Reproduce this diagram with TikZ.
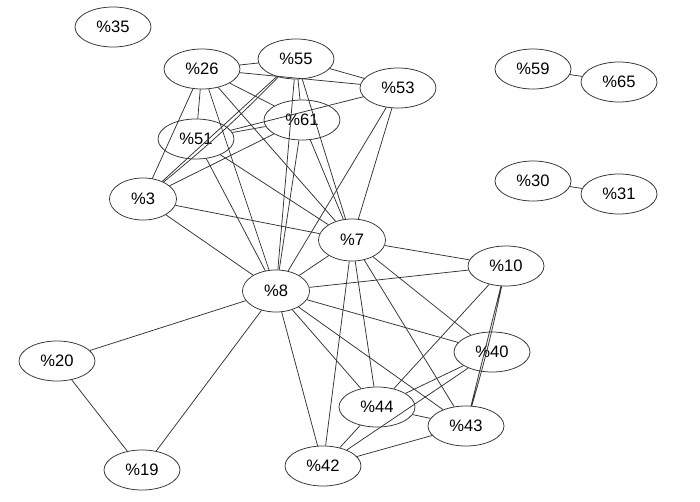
\documentclass[tikz,border=0pt]{standalone}
\usepackage{fontspec}
\setmainfont{Liberation Sans}
\usetikzlibrary{shapes.geometric}

\tikzset{
  vtx/.style={draw=black!80,line width=0.75pt,ellipse,inner sep=0pt,
    minimum width=76*0.035cm,minimum height=40*0.035cm,
    font=\fontsize{16.5}{20}\selectfont},
  vtxs/.style={vtx,minimum width=67*0.035cm,minimum height=42*0.035cm},
  edge/.style={draw=black!80,line width=0.75pt}
}

\begin{document}
\begin{tikzpicture}[x=0.035cm,y=-0.035cm]
  \useasboundingbox (0,0) rectangle (700,501);
  \node[vtx] (n35) at (113,27) {\%35};
  \node[vtx] (n26) at (202,69) {\%26};
  \node[vtx] (n55) at (296,59) {\%55};
  \node[vtx] (n53) at (398,88) {\%53};
  \node[vtx] (n61) at (302,120) {\%61};
  \node[vtx] (n51) at (196,139) {\%51};
  \node[vtxs] (n3) at (143,199) {\%3};
  \node[vtxs] (n7) at (352,240) {\%7};
  \node[vtx] (n10) at (506,266) {\%10};
  \node[vtxs] (n8) at (276,291) {\%8};
  \node[vtx] (n40) at (492,352) {\%40};
  \node[vtx] (n44) at (377,407) {\%44};
  \node[vtx] (n43) at (466,426) {\%43};
  \node[vtx] (n42) at (323,466) {\%42};
  \node[vtx] (n20) at (57,361) {\%20};
  \node[vtx] (n19) at (142,470) {\%19};
  \node[vtx] (n59) at (533,69) {\%59};
  \node[vtx] (n65) at (619,82) {\%65};
  \node[vtx] (n30) at (533,181) {\%30};
  \node[vtx] (n31) at (619,194) {\%31};

  \draw[edge] (n26) -- (n55) (n26) -- (n53) (n55) -- (n53) (n26) -- (n61)
    (n26) -- (n51) (n26) -- (n3) (n26) -- (n8) (n26) -- (n7);
  \draw[edge] (n55) -- (n61) (n55) -- (n3) (n55) to[bend left=3] (n3)
    (n55) -- (n8) (n55) -- (n7);
  \draw[edge] (n53) -- (n51) (n53) -- (n8) (n53) -- (n7);
  \draw[edge] (n61) -- (n51) (n61) -- (n3) (n61) -- (n8) (n61) -- (n7);
  \draw[edge] (n51) -- (n8) (n51) -- (n7) (n3) -- (n7) (n3) -- (n8);
  \draw[edge] (n7) -- (n8) (n7) -- (n10) (n7) -- (n40) (n7) -- (n43)
    (n7) -- (n44) (n7) -- (n42);
  \draw[edge] (n8) -- (n10) (n8) -- (n40) (n8) -- (n43) (n8) -- (n44)
    (n8) -- (n42) (n8) -- (n20) (n8) -- (n19) (n20) -- (n19);
  \draw[edge] (n10) -- (n44) (n10) -- (n43) (n10) to[bend left=2] (n43);
  \draw[edge] (n40) -- (n44) (n40) -- (n42) (n44) -- (n43) (n44) -- (n42)
    (n43) -- (n42);
  \draw[edge] (n59) -- (n65) (n30) -- (n31);
\end{tikzpicture}
\end{document}
